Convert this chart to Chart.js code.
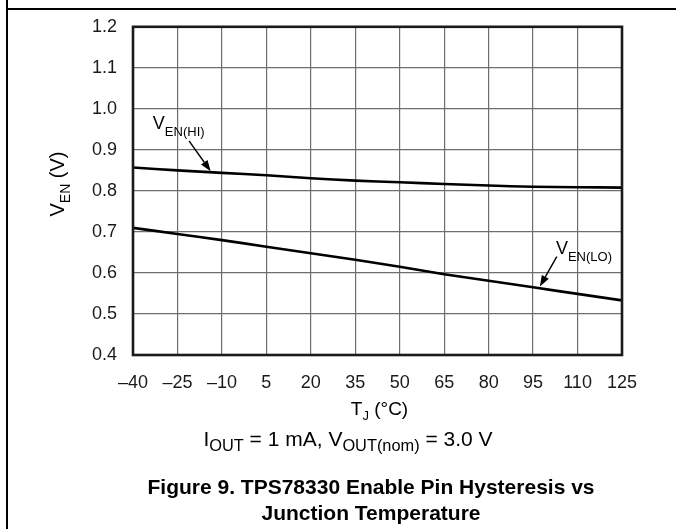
<!DOCTYPE html>
<html>
<head>
<meta charset="utf-8">
<script src="https://cdn.jsdelivr.net/npm/chart.js@4.4.1/dist/chart.umd.min.js"></script>
<style>
  html, body { margin: 0; padding: 0; background: #fff; }
  #wrap { position: relative; width: 676px; height: 529px; overflow: hidden; }
  #chart { position: absolute; left: 0; top: 0; }
  .cap { position: absolute; left: 0; width: 676px; text-align: center; font-family: "Liberation Sans", Arial, sans-serif; color: #000; white-space: nowrap; line-height: 26px; }
  .cap sub { font-size: 0.78em; vertical-align: -0.3em; line-height: 0; }
  #cond { top: 426px; font-size: 21px; left: 10px; }
  #title { top: 474px; font-size: 21px; font-weight: bold; left: 33px; }
</style>
</head>
<body>
<div id="wrap">
  <canvas id="chart" width="676" height="529"></canvas>
  <div class="cap" id="cond">I<sub>OUT</sub> = 1 mA, V<sub>OUT(nom)</sub> = 3.0 V</div>
  <div class="cap" id="title">Figure 9. TPS78330 Enable Pin Hysteresis vs<br>Junction Temperature</div>
</div>
<script>
// Junction temperature (°C)
const temps = [-40, -25, -10, 5, 20, 35, 50, 65, 80, 95, 110, 125];
// Enable threshold, rising (V)
const venHi = [0.857, 0.850, 0.844, 0.838, 0.831, 0.825, 0.821, 0.817, 0.813, 0.810, 0.809, 0.808];
// Enable threshold, falling (V)
const venLo = [0.710, 0.695, 0.680, 0.664, 0.648, 0.632, 0.615, 0.597, 0.581, 0.565, 0.549, 0.533];

// curve labels: [label x, label y, arrow tail x, tail y, arrow head x, head y] in data units
const hiNote = { sub: 'EN(HI)', at: [-33.3, 0.951, -21.1, 0.922, -13.8, 0.848] };
const loNote = { sub: 'EN(LO)', at: [102.7, 0.647, 103.0, 0.640, 97.3, 0.567] };

const FONT = '"Liberation Sans", Arial, sans-serif';

const pts = (ys) => temps.map((t, i) => ({ x: t, y: ys[i] }));

// draws "main" + lowered subscript + rest starting at x (baseline y)
function subText(c, x, y, main, sub, rest, big, small, drop) {
    c.font = big + 'px ' + FONT;
    const w1 = c.measureText(main).width;
    c.fillText(main, x, y);
    c.font = small + 'px ' + FONT;
    const w2 = c.measureText(sub).width;
    c.fillText(sub, x + w1, y + drop);
    c.font = big + 'px ' + FONT;
    if (rest) c.fillText(rest, x + w1 + w2, y);
}
function subWidth(c, main, sub, rest, big, small) {
    c.font = big + 'px ' + FONT;
    let w = c.measureText(main + rest).width;
    c.font = small + 'px ' + FONT;
    return w + c.measureText(sub).width;
}

// frame, outer rules, axis titles and curve labels
const extras = {
    id: 'extras',
    beforeDraw(chart) {
        const c = chart.ctx;
        c.save();
        c.strokeStyle = '#000';
        c.lineWidth = 2;
        c.beginPath();
        c.moveTo(7, 0); c.lineTo(7, 529);
        c.moveTo(7, 9); c.lineTo(676, 9);
        c.stroke();
        c.restore();
    },
    afterDatasetsDraw(chart) {
        const c = chart.ctx;
        const a = chart.chartArea;
        const xs = chart.scales.x, ys = chart.scales.y;
        c.save();
        // plot frame
        c.strokeStyle = '#1a1a1a';
        c.lineWidth = 2.6;
        c.strokeRect(a.left, a.top, a.right - a.left, a.bottom - a.top);

        c.fillStyle = '#000';
        c.strokeStyle = '#000';
        c.textBaseline = 'alphabetic';
        c.textAlign = 'left';
        // curve labels with arrows
        [hiNote, loNote].forEach(n => {
            const [lx, ly, tx, ty, hx, hy] = n.at;
            const px = xs.getPixelForValue(lx), py = ys.getPixelForValue(ly);
            subText(c, px, py, 'V', n.sub, '', 18, 13, 7);

            const x0 = xs.getPixelForValue(tx), y0 = ys.getPixelForValue(ty);
            const x1 = xs.getPixelForValue(hx), y1 = ys.getPixelForValue(hy);
            const ang = Math.atan2(y1 - y0, x1 - x0);
            const L = 11, W = 4;
            const bx = x1 - L * Math.cos(ang), by = y1 - L * Math.sin(ang);
            c.lineWidth = 1.4;
            c.beginPath();
            c.moveTo(x0, y0); c.lineTo(bx, by);
            c.stroke();
            c.beginPath();
            c.moveTo(x1, y1);
            c.lineTo(bx + W * Math.sin(ang), by - W * Math.cos(ang));
            c.lineTo(bx - W * Math.sin(ang), by + W * Math.cos(ang));
            c.closePath();
            c.fill();
        });

        // x axis title  T_J (°C)
        const cx = (a.left + a.right) / 2;
        let w = subWidth(c, 'T', 'J', ' (°C)', 19, 13);
        subText(c, cx - w / 2 + 2, 415, 'T', 'J', ' (°C)', 19, 13, 5);

        // y axis title  V_EN (V), rotated
        c.translate(64, 184);
        c.rotate(-Math.PI / 2);
        w = subWidth(c, 'V', 'EN', ' (V)', 20, 14);
        subText(c, -w / 2, 0, 'V', 'EN', ' (V)', 20, 14, 6);
        c.restore();
    }
};

const ctx = document.getElementById('chart').getContext('2d');
const chart = new Chart(ctx, {
    type: 'line',
    data: {
        datasets: [
            { label: 'VEN(HI)', data: pts(venHi), borderColor: '#000', borderWidth: 2.6, pointRadius: 0, tension: 0.3 },
            { label: 'VEN(LO)', data: pts(venLo), borderColor: '#000', borderWidth: 2.6, pointRadius: 0, tension: 0.3 }
        ]
    },
    options: {
        responsive: false,
        animation: false,
        events: [],
        layout: { padding: { left: 0, top: 24, right: 54, bottom: 0 } },
        plugins: { legend: { display: false }, tooltip: { enabled: false } },
        scales: {
            x: {
                type: 'linear',
                min: -40, max: 125,
                afterFit: (s) => { s.height = 174; },
                grid: { color: '#6e6e6e', lineWidth: 1.2, drawTicks: false },
                border: { display: false },
                ticks: {
                    stepSize: 15,
                    padding: 17,
                    color: '#1a1a1a',
                    font: { family: FONT, size: 18 },
                    callback: (v) => String(v).replace('-', '\u2013')
                }
            },
            y: {
                min: 0.4, max: 1.2,
                afterFit: (s) => { s.width = 133; },
                grid: { color: '#6e6e6e', lineWidth: 1.2, drawTicks: false },
                border: { display: false },
                ticks: {
                    stepSize: 0.1,
                    padding: 16,
                    color: '#1a1a1a',
                    font: { family: FONT, size: 18 },
                    callback: (v) => v.toFixed(1)
                }
            }
        }
    },
    plugins: [extras]
});
</script>
</body>
</html>
